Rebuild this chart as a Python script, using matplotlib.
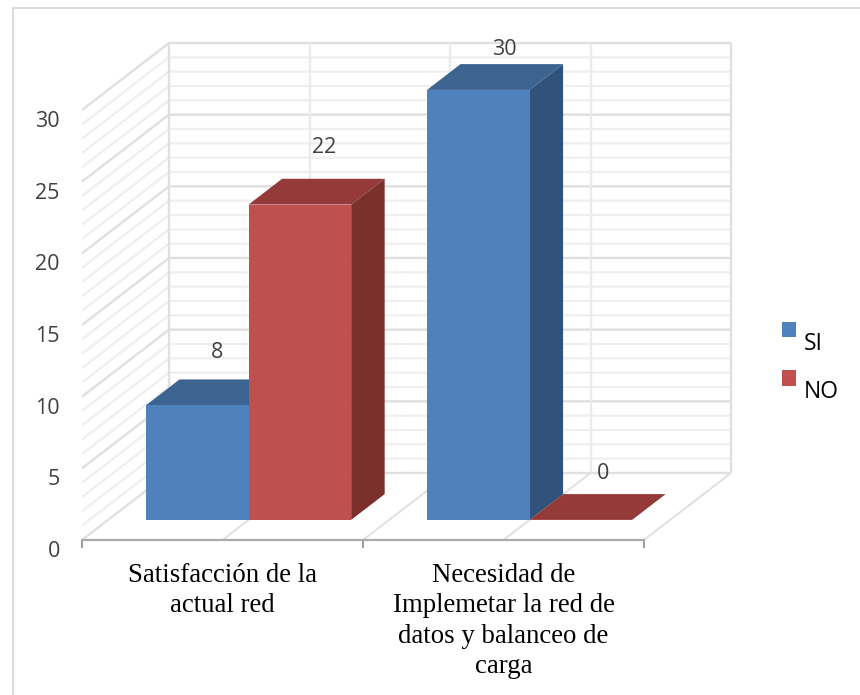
import matplotlib
matplotlib.use("Agg")
import matplotlib.pyplot as plt
from matplotlib.lines import Line2D
from matplotlib.patches import Patch, Polygon
from matplotlib.transforms import ScaledTranslation

# Survey results
categories = ["Satisfacción de la\nactual red",
              "Necesidad de\nImplemetar la red de\ndatos y balanceo de\ncarga"]
series_names = ["SI", "NO"]
si_values = [8, 30]
no_values = [22, 0]
y_ticks = [0, 5, 10, 15, 20, 25, 30]

# Oblique projection: one unit of depth shifts a point right and up
W, H = 860, 695
X0, X1, Y0, Y1 = 82, 644, 540, 110
DEPTH_X = 87 / ((X1 - X0) / 2)            # category units per unit of depth
DEPTH_Y = 67 / ((Y0 - Y1) / 30)           # value units per unit of depth
BAR_WIDTH = 0.365
BAR_START = 0.135
BAR_FRONT, BAR_BACK = 0.30, 0.685

SANS = "Open Sans"
SERIF = "Liberation Serif"
MINOR_GRID = "#efefef"
MAJOR_GRID = "#e0e0e0"
FACE_COLORS = {
    "SI": ("#4f81bd", "#3d6391", "#30527b"),
    "NO": ("#c0504d", "#943a38", "#7b302e"),
}


def project(x, value, depth):
    return x + depth * DEPTH_X, value + depth * DEPTH_Y


fig = plt.figure(figsize=(W / 100, H / 100), dpi=100, facecolor="white")
ax = fig.add_axes([X0 / W, 1 - Y0 / H, (X1 - X0) / W, (Y0 - Y1) / H])
ax.set_xlim(0, 2)
ax.set_ylim(0, 30)
ax.patch.set_visible(False)
for spine in ax.spines.values():
    spine.set_visible(False)


def wall_line(points, color, lw=1.3, z=1):
    xs, ys = zip(*points)
    ax.plot(xs, ys, color=color, lw=lw, clip_on=False, zorder=z,
            solid_capstyle="butt")


# Back wall and side wall grid, one line per unit of value
for v in range(0, 31):
    major = v % 5 == 0
    color = MAJOR_GRID if major else MINOR_GRID
    wall_line([project(0, v, 0), project(0, v, 1), project(2, v, 1)], color,
              lw=1.7 if major else 1.6, z=2 if major else 1)

# Vertical back wall lines and their continuation across the floor
for x in [0, 0.5, 1, 1.5, 2]:
    wall_line([project(x, 0, 1), project(x, 30, 1)],
              MAJOR_GRID if x in (0, 2) else "#ebebeb", lw=1.7, z=2)
    if x > 0:
        wall_line([project(x, 0, 0), project(x, 0, 1)], MAJOR_GRID, lw=1.4, z=2)

# Front axis line sits above the floor
ax.plot([0, 2], [0, 0], color="#ababab", lw=1.6, clip_on=False, zorder=3)


def draw_bar(left, value, name, z):
    front, top, side = FACE_COLORS[name]
    right = left + BAR_WIDTH
    top_face = [project(left, value, BAR_FRONT), project(right, value, BAR_FRONT),
                project(right, value, BAR_BACK), project(left, value, BAR_BACK)]
    ax.add_patch(Polygon(top_face, closed=True, fc=top, ec="none", zorder=z,
                         clip_on=False))
    if value > 0:
        side_face = [project(right, 0, BAR_FRONT), project(right, 0, BAR_BACK),
                     project(right, value, BAR_BACK), project(right, value, BAR_FRONT)]
        front_face = [project(left, 0, BAR_FRONT), project(right, 0, BAR_FRONT),
                      project(right, value, BAR_FRONT), project(left, value, BAR_FRONT)]
        ax.add_patch(Polygon(side_face, closed=True, fc=side, ec="none", zorder=z,
                             clip_on=False))
        ax.add_patch(Polygon(front_face, closed=True, fc=front, ec="none", zorder=z,
                             clip_on=False))


# Value labels sit above the bar tops; the tall bar's label is held in the plot
label_rise = [27, 31, 15, 21]
label_slide = [-10, -7, -5, -8]
order = [(0, "SI", si_values[0]), (0, "NO", no_values[0]),
         (1, "SI", si_values[1]), (1, "NO", no_values[1])]
for i, (cat, name, value) in enumerate(order):
    left = cat + BAR_START + (BAR_WIDTH if name == "NO" else 0)
    draw_bar(left, value, name, 5 + i)
    anchor = project(left + BAR_WIDTH / 2, value, BAR_BACK)
    ax.annotate(str(value), xy=anchor, xytext=(label_slide[i], label_rise[i] * 0.72),
                textcoords="offset points", ha="center", va="center",
                family=SANS, fontsize=15.5, color="#404040", zorder=20,
                annotation_clip=False)

# Axis ticks and labels
ax.set_yticks(y_ticks)
ax.set_yticklabels([str(t) for t in y_ticks], family=SANS, fontsize=15.5,
                   color="#404040")
ax.tick_params(axis="y", length=0, pad=16)
shift = ScaledTranslation(0, -9 / 100, fig.dpi_scale_trans)
for label in ax.get_yticklabels():
    label.set_transform(label.get_transform() + shift)

ax.set_xticks([0, 1, 2])
ax.set_xticklabels([])
ax.tick_params(axis="x", which="major", length=6, width=1.2, color="#8a8a8a")
ax.set_xticks([0.5, 1.5], minor=True)
ax.set_xticklabels(categories, minor=True, family=SERIF, fontsize=19.3,
                   color="black", linespacing=1.28)
ax.tick_params(axis="x", which="minor", length=0, pad=16.5)

# Legend
handles = [Patch(fc=FACE_COLORS[n][0], ec="none", label=n) for n in series_names]
legend = fig.legend(handles=handles, loc="upper left",
                    bbox_to_anchor=(777 / W, 1 - 315 / H), frameon=False,
                    prop={"family": SANS, "size": 16.5}, handlelength=0.65,
                    handleheight=0.65, handletextpad=0.33, labelspacing=1.07,
                    borderpad=0.2, borderaxespad=0)
for text in legend.get_texts():
    text.set_color("black")
    text.set_position((0, -12))

# Chart frame, open toward the right and bottom edges of the figure
frame_x, frame_y = 12.5 / W, 1 - 7.5 / H
for xs, ys in [([frame_x, 1], [frame_y, frame_y]), ([frame_x, frame_x], [frame_y, 0])]:
    fig.add_artist(Line2D(xs, ys, color="#d9d9d9", lw=1.3))

fig.savefig("out.png", dpi=100, facecolor="white")
